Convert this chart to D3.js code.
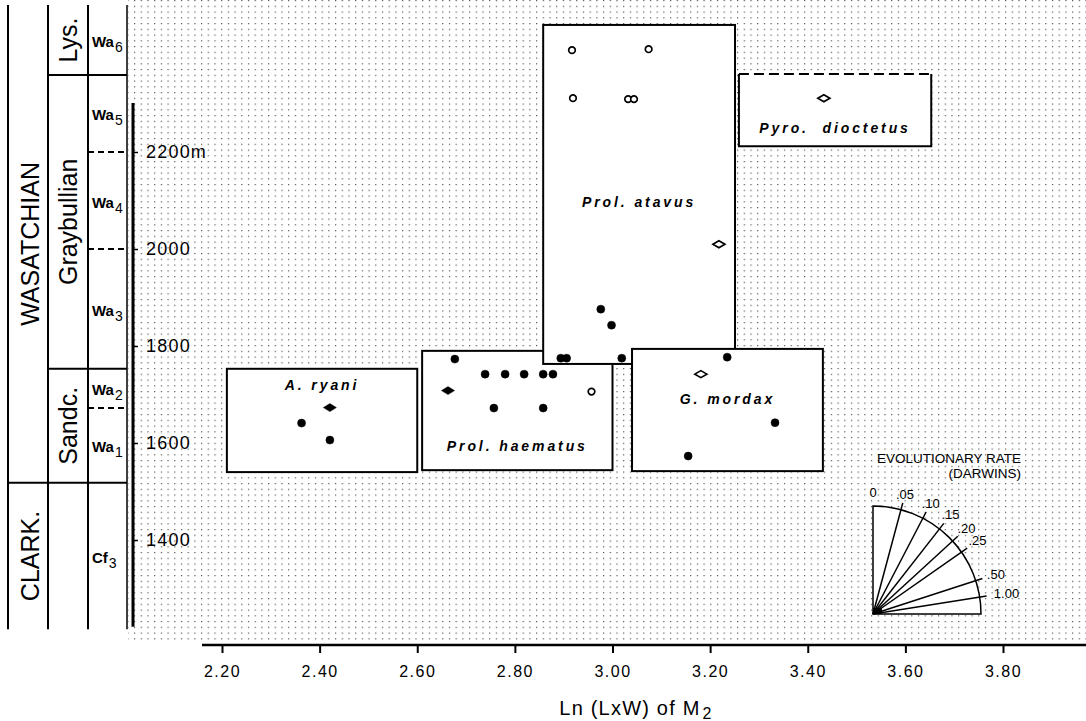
<!DOCTYPE html>
<html>
<head>
<meta charset="utf-8">
<script src="https://cdn.jsdelivr.net/npm/d3@7"></script>
<style>
  body { margin: 0; background: #fff; }
  svg { display: block; }
  text { font-family: "Liberation Sans", Arial, Helvetica, sans-serif; fill: #000; }
</style>
</head>
<body>
<div id="chart"></div>
<script>
// ---- Data ----
var xTicks = [2.20, 2.40, 2.60, 2.80, 3.00, 3.20, 3.40, 3.60, 3.80]
var yTicks = [1400, 1600, 1800, 2000, 2200]
var sectionTop = 2301
var sectionBottom = 1221

// stratigraphic column (metres)
var stages = [
  { name: 'WASATCHIAN', top: 2503, bottom: 1518 },
  { name: 'CLARK.', top: 1518, bottom: 1216 }
]
var substages = [
  { name: 'Lys.', top: 2503, bottom: 2359 },
  { name: 'Graybullian', top: 2359, bottom: 1753 },
  { name: 'Sandc.', top: 1753, bottom: 1518 }
]
var zones = [
  { name: 'Wa', sub: '6', top: 2503, bottom: 2359 },
  { name: 'Wa', sub: '5', top: 2359, bottom: 2200 },
  { name: 'Wa', sub: '4', top: 2200, bottom: 2000 },
  { name: 'Wa', sub: '3', top: 2000, bottom: 1753 },
  { name: 'Wa', sub: '2', top: 1753, bottom: 1672 },
  { name: 'Wa', sub: '1', top: 1672, bottom: 1518 },
  { name: 'Cf', sub: '3', top: 1518, bottom: 1216 }
]
var boundaries = [
  { m: 2359, from: 1, dashed: false },
  { m: 2200, from: 2, dashed: true },
  { m: 2000, from: 2, dashed: true },
  { m: 1753, from: 1, dashed: false },
  { m: 1672, from: 2, dashed: true },
  { m: 1518, from: 0, dashed: false }
]

// species ranges: ln(LxW) extent and metre extent
var species = [
  { name: 'A. ryani', x0: 2.21, x1: 2.60, top: 1753, bottom: 1540, labelM: 1720 },
  { name: 'Prol. haematus', x0: 2.61, x1: 3.00, top: 1790, bottom: 1544, labelM: 1594 },
  { name: 'Prol. atavus', x0: 2.858, x1: 3.251, top: 2462, bottom: 1763, labelM: 2097 },
  { name: 'G. mordax', x0: 3.04, x1: 3.431, top: 1794, bottom: 1542, labelM: 1691 },
  { name: 'Pyro.  dioctetus', x0: 3.259, x1: 3.653, top: 2361, bottom: 2212, labelM: 2250, dashedTop: true }
]

// specimens: x = ln(LxW) of M2, m = metres
var specimens = [
  // A. ryani
  { x: 2.421, m: 1673, type: 'diamond' },
  { x: 2.363, m: 1641, type: 'dot' },
  { x: 2.421, m: 1606, type: 'dot' },
  // Prol. haematus
  { x: 2.677, m: 1773, type: 'dot' },
  { x: 2.663, m: 1708, type: 'diamond' },
  { x: 2.739, m: 1742, type: 'dot' },
  { x: 2.780, m: 1742, type: 'dot' },
  { x: 2.819, m: 1742, type: 'dot' },
  { x: 2.858, m: 1742, type: 'dot' },
  { x: 2.878, m: 1742, type: 'dot' },
  { x: 2.757, m: 1672, type: 'dot' },
  { x: 2.858, m: 1672, type: 'dot' },
  { x: 2.957, m: 1706, type: 'ring' },
  // Prol. atavus
  { x: 2.917, m: 2410, type: 'ring' },
  { x: 3.074, m: 2412, type: 'ring' },
  { x: 2.919, m: 2311, type: 'ring' },
  { x: 3.032, m: 2309, type: 'ring' },
  { x: 3.044, m: 2309, type: 'ring' },
  { x: 2.976, m: 1876, type: 'dot' },
  { x: 2.998, m: 1843, type: 'dot' },
  { x: 3.218, m: 2010, type: 'openDiamond' },
  { x: 2.894, m: 1775, type: 'dot' },
  { x: 2.906, m: 1775, type: 'dot' },
  { x: 3.019, m: 1775, type: 'dot' },
  // G. mordax
  { x: 3.235, m: 1777, type: 'dot' },
  { x: 3.181, m: 1742, type: 'openDiamond' },
  { x: 3.333, m: 1642, type: 'dot' },
  { x: 3.155, m: 1573, type: 'dot' },
  // Pyro. dioctetus
  { x: 3.433, m: 2311, type: 'openDiamond' }
]

// evolutionary rate key (darwins) and ray angles from vertical (deg)
var rateLabels = ['0', '.05', '.10', '.15', '.20', '.25', '.50', '1.00']
var rateAngles = [0, 15, 27.5, 38, 47.5, 55, 72, 81]

// ---- Layout ----
var width = 1086
var height = 721
var colX = [8, 48, 88, 127]
var axisX = 133
var axisY = 645

var xScale = d3.scaleLinear().domain([2.2, 3.8]).range([222, 1003])
var yScale = d3.scaleLinear().domain([1400, 2200]).range([540, 152])

var svg = d3.select('#chart').append('svg')
  .attr('width', width)
  .attr('height', height)

// Dotted background
var defs = svg.append('defs')
defs.append('pattern')
  .attr('id', 'dots')
  .attr('patternUnits', 'userSpaceOnUse')
  .attr('width', 6.7)
  .attr('height', 5.75)
  .append('rect')
  .attr('width', 1.2)
  .attr('height', 1.2)
  .attr('fill', '#555')

svg.append('rect')
  .attr('x', 128)
  .attr('y', 0)
  .attr('width', width - 128)
  .attr('height', 643)
  .attr('fill', 'url(#dots)')

// Stratigraphic column
var gCol = svg.append('g').attr('class', 'column')

gCol.selectAll('.colline')
  .data(colX)
  .enter().append('line')
  .attr('class', 'colline')
  .attr('x1', function (d) { return d })
  .attr('x2', function (d) { return d })
  .attr('y1', yScale(2503))
  .attr('y2', yScale(1216))
  .attr('stroke', '#000')
  .attr('stroke-width', function (d, i) { return i === 3 ? 1.5 : 2 })

gCol.selectAll('.bound')
  .data(boundaries)
  .enter().append('line')
  .attr('class', 'bound')
  .attr('x1', function (d) { return colX[d.from] })
  .attr('x2', colX[3])
  .attr('y1', function (d) { return yScale(d.m) })
  .attr('y2', function (d) { return yScale(d.m) })
  .attr('stroke', '#000')
  .attr('stroke-width', 2)
  .attr('stroke-dasharray', function (d) { return d.dashed ? '6,4' : null })

function rotatedLabels(data, cx, cls) {
  gCol.selectAll('.' + cls)
    .data(data)
    .enter().append('text')
    .attr('class', cls)
    .attr('transform', function (d) {
      var cy = (yScale(d.top) + yScale(d.bottom)) / 2
      return 'translate(' + cx + ',' + cy + ') rotate(-90)'
    })
    .attr('text-anchor', 'middle')
    .attr('dominant-baseline', 'central')
    .style('font-size', '25px')
    .text(function (d) { return d.name })
}
rotatedLabels(stages, 30, 'stage')
rotatedLabels(substages, 68, 'substage')

var zoneText = gCol.selectAll('.zone')
  .data(zones)
  .enter().append('text')
  .attr('class', 'zone')
  .attr('x', 92)
  .attr('y', function (d) { return (yScale(d.top) + yScale(d.bottom)) / 2 + 7 })
  .style('font-size', '15px')
  .style('font-weight', 'bold')
zoneText.append('tspan').text(function (d) { return d.name })
zoneText.append('tspan')
  .attr('dy', 5)
  .attr('dx', 1)
  .style('font-weight', 'normal')
  .style('font-size', '14px')
  .text(function (d) { return d.sub })

// Y axis
svg.append('line')
  .attr('x1', axisX).attr('x2', axisX)
  .attr('y1', yScale(sectionTop))
  .attr('y2', yScale(sectionBottom))
  .attr('stroke', '#000')
  .attr('stroke-width', 3)

var yAxis = svg.append('g')
  .attr('transform', 'translate(' + axisX + ',0)')
  .call(d3.axisRight(yScale)
    .tickValues(yTicks)
    .tickSize(5)
    .tickFormat(function (d) { return d === 2200 ? '2200m' : d }))
yAxis.select('.domain').remove()
yAxis.selectAll('line').attr('stroke-width', 1.5)
yAxis.selectAll('text')
  .attr('x', 13)
  .style('font-size', '18px')
  .style('letter-spacing', '1.2px')
  .style('font-family', '"Liberation Sans", Arial, sans-serif')

// X axis
var xAxis = svg.append('g')
  .attr('transform', 'translate(0,' + axisY + ')')
  .call(d3.axisBottom(xScale)
    .tickValues(xTicks)
    .tickSize(8)
    .tickFormat(d3.format('.2f')))
xAxis.select('.domain').remove()
xAxis.selectAll('line').attr('stroke-width', 2)
xAxis.selectAll('text')
  .attr('y', 21)
  .style('font-size', '16px')
  .style('letter-spacing', '1.5px')
  .style('font-family', '"Liberation Sans", Arial, sans-serif')

svg.append('line')
  .attr('x1', 202).attr('x2', width)
  .attr('y1', axisY).attr('y2', axisY)
  .attr('stroke', '#000')
  .attr('stroke-width', 2.5)

var xTitle = svg.append('text')
  .attr('x', 636)
  .attr('y', 715)
  .attr('text-anchor', 'middle')
  .style('font-size', '20px')
  .style('letter-spacing', '1.2px')
xTitle.append('tspan').text('Ln (LxW) of M')
xTitle.append('tspan').attr('dy', 4).attr('dx', 2).style('font-size', '16px').text('2')

// Species boxes
var gBox = svg.append('g').attr('class', 'boxes')
species.forEach(function (d) {
  var x0 = xScale(d.x0), x1 = xScale(d.x1)
  var y0 = yScale(d.top), y1 = yScale(d.bottom)
  gBox.append('rect')
    .attr('x', x0).attr('y', y0)
    .attr('width', x1 - x0).attr('height', y1 - y0)
    .attr('fill', '#fff')
    .attr('stroke', d.dashedTop ? 'none' : '#000')
    .attr('stroke-width', 2)
  if (d.dashedTop) {
    gBox.append('path')
      .attr('d', 'M' + x0 + ',' + y0 + 'V' + y1 + 'H' + x1 + 'V' + y0)
      .attr('fill', 'none')
      .attr('stroke', '#000')
      .attr('stroke-width', 2)
    gBox.append('line')
      .attr('x1', x0).attr('x2', x1)
      .attr('y1', y0).attr('y2', y0)
      .attr('stroke', '#000')
      .attr('stroke-width', 2)
      .attr('stroke-dasharray', '10,5')
  }
})

// Specimens
var gPts = svg.append('g').attr('class', 'points')
gPts.selectAll('.pt')
  .data(specimens)
  .enter().append('path')
  .attr('class', 'pt')
  .attr('transform', function (d) { return 'translate(' + xScale(d.x) + ',' + yScale(d.m) + ')' })
  .attr('d', function (d) {
    if (d.type === 'dot') return 'M-4,0a4,4 0 1,0 8,0a4,4 0 1,0 -8,0Z'
    if (d.type === 'ring') return 'M-3.3,0a3.3,3.3 0 1,0 6.6,0a3.3,3.3 0 1,0 -6.6,0Z'
    if (d.type === 'diamond') return 'M-6.5,0L0,-4L6.5,0L0,4Z'
    return 'M-6,0L0,-3.5L6,0L0,3.5Z'
  })
  .attr('fill', function (d) { return (d.type === 'dot' || d.type === 'diamond') ? '#000' : '#fff' })
  .attr('stroke', '#000')
  .attr('stroke-width', function (d) { return (d.type === 'dot' || d.type === 'diamond') ? 0.5 : 1.7 })

// Species labels
gBox.selectAll('.splabel')
  .data(species)
  .enter().append('text')
  .attr('class', 'splabel')
  .attr('x', function (d) { return (xScale(d.x0) + xScale(d.x1)) / 2 })
  .attr('y', function (d) { return yScale(d.labelM) })
  .attr('text-anchor', 'middle')
  .attr('dominant-baseline', 'central')
  .style('font-size', '14px')
  .style('font-weight', 'bold')
  .style('font-style', 'italic')
  .style('letter-spacing', '2.9px')
  .style('white-space', 'pre')
  .text(function (d) { return d.name })

// Evolutionary rate key
var ox = 873, oy = 614, r = 108, rayLen = 115
var gKey = svg.append('g').attr('class', 'key')
gKey.append('path')
  .attr('d', 'M' + ox + ',' + oy + 'V' + (oy - r) + 'A' + r + ',' + r + ' 0 0,1 ' + (ox + r) + ',' + oy + 'Z')
  .attr('fill', '#fff')
  .attr('stroke', '#000')
  .attr('stroke-width', 1.5)
gKey.selectAll('.ray')
  .data(rateAngles.slice(1))
  .enter().append('line')
  .attr('class', 'ray')
  .attr('x1', ox).attr('y1', oy)
  .attr('x2', function (a) { return ox + rayLen * Math.sin(a * Math.PI / 180) })
  .attr('y2', function (a) { return oy - rayLen * Math.cos(a * Math.PI / 180) })
  .attr('stroke', '#000')
  .attr('stroke-width', 1.5)
gKey.append('rect')
  .attr('x', ox).attr('y', oy - 6)
  .attr('width', 9).attr('height', 6)
  .attr('fill', '#000')
gKey.selectAll('.ratelabel')
  .data(rateLabels)
  .enter().append('text')
  .attr('class', 'ratelabel')
  .attr('x', function (d, i) {
    var a = rateAngles[i], rl = 122 + a / 10
    return ox + rl * Math.sin(a * Math.PI / 180) + (d.length > 3 ? 5 : 0)
  })
  .attr('y', function (d, i) {
    var a = rateAngles[i], rl = 122 + a / 10
    return oy - rl * Math.cos(a * Math.PI / 180)
  })
  .attr('text-anchor', 'middle')
  .attr('dominant-baseline', 'central')
  .style('font-size', '13px')
  .text(function (d) { return d })

gKey.append('text')
  .attr('x', 1021).attr('y', 458)
  .attr('text-anchor', 'end')
  .attr('dominant-baseline', 'central')
  .style('font-size', '13.5px')
  .text('EVOLUTIONARY RATE')
gKey.append('text')
  .attr('x', 1021).attr('y', 473)
  .attr('text-anchor', 'end')
  .attr('dominant-baseline', 'central')
  .style('font-size', '13.5px')
  .text('(DARWINS)')
</script>
</body>
</html>
